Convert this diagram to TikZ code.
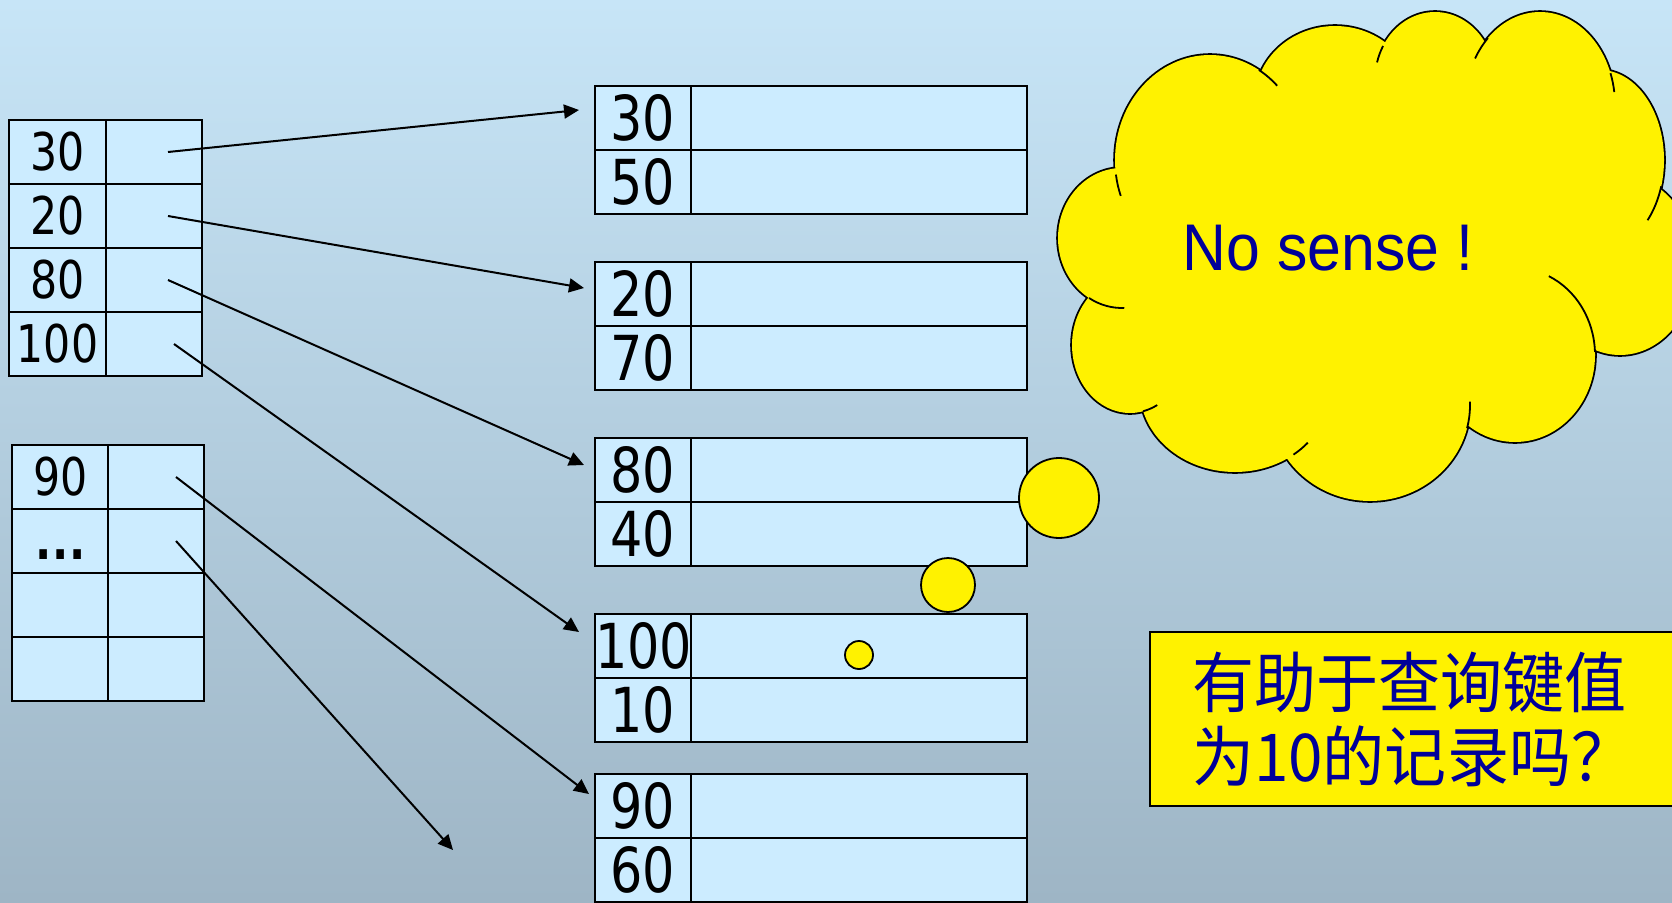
\documentclass[tikz,border=0pt]{standalone}
\usepackage{fontspec}
\usetikzlibrary{arrows.meta}
\newfontfamily\keyfont[FakeStretch=0.82]{DejaVu Sans}
\newfontfamily\thinkfont[FakeStretch=0.92]{Liberation Sans}
\newfontfamily\askfont[FakeStretch=0.94]{Noto Sans CJK SC}
\definecolor{cellblue}{RGB}{204,236,255}
\definecolor{skytop}{RGB}{199,229,247}
\definecolor{skybottom}{RGB}{158,181,197}
\definecolor{inkblue}{RGB}{0,0,153}
\newcommand\cloudbumps{1122/238/64/70, 1210/160/95/105, 1335/100/80/74,
  1435/80/60/68, 1540/105/75/93, 1600/160/64/90, 1620/265/75/90,
  1515/355/80/87, 1370/405/100/96, 1235/390/95/82, 1130/345/58/68}
\newcommand\moredots{{\bfseries\vphantom{0}.\kern1pt.\kern1pt.}}

\begin{document}
\begin{tikzpicture}[%
      x=1pt, y=-1pt,
      cell/.style={draw, line width=1.8pt, fill=cellblue, inner sep=0pt, outer sep=0pt,
        anchor=north west, minimum height=64pt},
      idxkey/.style={cell, minimum width=97pt, font=\keyfont\fontsize{52}{52}\selectfont},
      idxptr/.style={cell, minimum width=96pt},
      bktkey/.style={cell, minimum width=96pt, font=\keyfont\fontsize{62}{62}\selectfont},
      bktdata/.style={cell, minimum width=336pt},
      pointer/.style={line width=2pt, -{Triangle[length=15pt,width=14pt]}},
      puff/.style={draw, line width=1.8pt, fill=yellow},
      cloudline/.style={line width=1.8pt},
      askbox/.style={draw, line width=1.8pt, fill=yellow, anchor=north west, outer sep=0pt,
        minimum height=174pt, text width=490pt, inner xsep=42pt, align=left,
        text=inkblue, font=\askfont\fontsize{66}{74}\selectfont},
      ]
      \useasboundingbox (0,0) rectangle (1672,902);
      \shade[top color=skytop, bottom color=skybottom] (0,0) rectangle (1672,902);

      % index blocks
      \foreach \k [count=\i] in {30,20,80,100} {
        \node[idxkey] (ka\i) at (9,{120+64*(\i-1)}) {\k};
        \node[idxptr] (pa\i) at (106,{120+64*(\i-1)}) {};
      }
      \foreach \k [count=\i] in {90,\moredots,{},{}} {
        \node[idxkey] (kb\i) at (12,{445+64*(\i-1)}) {\k};
        \node[idxptr] (pb\i) at (108,{445+64*(\i-1)}) {};
      }

      % data buckets
      \foreach \t/\ka/\kb [count=\j] in {86/30/50, 262/20/70, 438/80/40, 614/100/10, 774/90/60} {
        \node[bktkey] (bk\j a) at (595,\t) {\ka};
        \node[bktdata] (bd\j a) at (691,\t) {};
        \node[bktkey] (bk\j b) at (595,\t+64) {\kb};
        \node[bktdata] (bd\j b) at (691,\t+64) {};
      }

      \coordinate (tip1) at (579,110);
      \coordinate (tip2) at (584,288);
      \coordinate (tip3) at (584,465);
      \coordinate (tip4) at (579,632);
      \coordinate (tip5) at (589,794);
      \coordinate (tip6) at (453,850);

      \draw[pointer] ([xshift=62pt]pa1.west) -- (tip1);
      \draw[pointer] ([xshift=62pt]pa2.west) -- (tip2);
      \draw[pointer] ([xshift=62pt]pa3.west) -- (tip3);
      \draw[pointer] ([xshift=68pt]pa4.west) -- (tip4);
      \draw[pointer] ([xshift=68pt]pb1.west) -- (tip5);
      \draw[pointer] ([xshift=68pt]pb2.west) -- (tip6);

      % thought cloud
      \foreach \cx/\cy/\rx/\ry in \cloudbumps
        \draw[line width=3.6pt] (\cx,\cy) ellipse [x radius=\rx, y radius=\ry];
      \foreach \cx/\cy/\rx/\ry in \cloudbumps
        \fill[yellow] (\cx,\cy) ellipse [x radius=\rx, y radius=\ry];
      \fill[yellow] (1350,250) ellipse [x radius=240, y radius=190];

      \draw[cloudline] (1210,160) ++(172:95 and 105) arc[start angle=172, end angle=160, x radius=95, y radius=105];
      \draw[cloudline] (1210,160) ++(-59:95 and 105) arc[start angle=-59, end angle=-45, x radius=95, y radius=105];
      \draw[cloudline] (1435,80) ++(210:60 and 68) arc[start angle=210, end angle=195, x radius=60, y radius=68];
      \draw[cloudline] (1540,105) ++(226:75 and 93) arc[start angle=226, end angle=210, x radius=75, y radius=93];
      \draw[cloudline] (1540,105) ++(-20:75 and 93) arc[start angle=-20, end angle=-8, x radius=75, y radius=93];
      \draw[cloudline] (1600,160) ++(17:64 and 90) arc[start angle=17, end angle=42, x radius=64, y radius=90];
      \draw[cloudline] (1515,355) ++(-2:80 and 87) arc[start angle=-2, end angle=-65, x radius=80, y radius=87];
      \draw[cloudline] (1370,405) ++(14:100 and 96) arc[start angle=14, end angle=-2, x radius=100, y radius=96];
      \draw[cloudline] (1235,390) ++(52:95 and 82) arc[start angle=52, end angle=40, x radius=95, y radius=82];
      \draw[cloudline] (1130,345) ++(77:58 and 68) arc[start angle=77, end angle=62, x radius=58, y radius=68];
      \draw[cloudline] (1122,238) ++(121:64 and 70) arc[start angle=121, end angle=88, x radius=64, y radius=70];

      \node[font=\thinkfont\fontsize{66}{66}\selectfont, text=inkblue, anchor=base] (nosense) at (1328,270) {No sense !};

      \draw[puff] (1059,498) circle [radius=40];
      \draw[puff] (948,585) circle [radius=27];
      \draw[puff] (859,655) circle [radius=14];

      \node[askbox] (ask) at (1150,632) {有助于查询键值\\为10的记录吗？};
\end{tikzpicture}
\end{document}
